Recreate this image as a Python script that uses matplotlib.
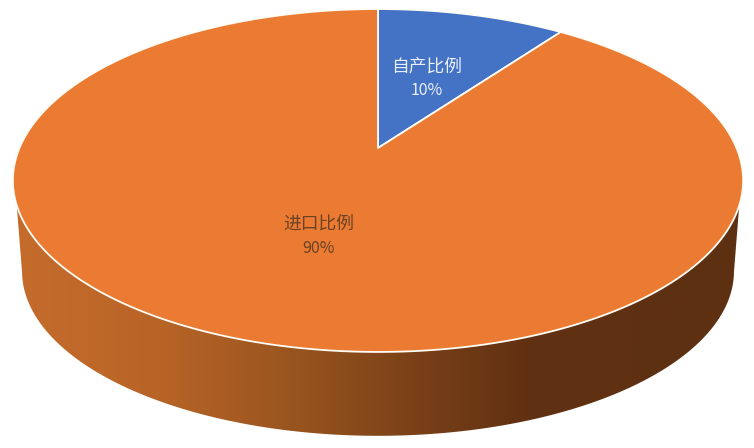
import numpy as np
import matplotlib
matplotlib.use("Agg")
import matplotlib.pyplot as plt
from matplotlib.patches import Polygon
from matplotlib.colors import LinearSegmentedColormap

plt.rcParams['font.family'] = ['Noto Sans CJK SC', 'DejaVu Sans']

categories = ['自产比例', '进口比例']
values = [10, 90]
slice_colors = ['#4472C4', '#EB7B32']
label_colors = ['#EAF0FA', '#6B4224']
label_radius = [0.49, 0.505]
label_shift = [-1.0, 2.0]

# Perspective view of the pie disc, in pixels of the 754x448 image
CX = 378.0
TOP = dict(apex=148.0, sy=165.3, k=0.1895, r=358.5)
BOTTOM = dict(apex=240.0, sy=158.7, k=0.1895, r=349.5)


def project(theta_deg, rho=1.0, view=TOP):
    t = np.radians(theta_deg)
    d = 1 + view['k'] * rho * np.cos(t)
    x = CX + view['r'] * rho * np.sin(t) / d
    y = view['apex'] - view['sy'] * rho * np.cos(t) / d
    return np.column_stack([np.atleast_1d(x), np.atleast_1d(y)])


fig = plt.figure(figsize=(7.54, 4.48), dpi=100, facecolor='white')
ax = fig.add_axes([0, 0, 1, 1])
ax.set_xlim(0, 754)
ax.set_ylim(448, 0)
ax.axis('off')

# Side wall with its left-to-right shading
circle = np.linspace(0, 360, 1441)
top_edge = project(circle)
low_edge = project(circle, view=BOTTOM)
top_front = top_edge[top_edge[:, 1] >= 205]
low_front = low_edge[low_edge[:, 1] >= 272]
top_front = top_front[np.argsort(top_front[:, 0])]
low_front = low_front[np.argsort(low_front[:, 0])]
wall = Polygon(np.vstack([top_front, low_front[::-1]]), closed=True,
               facecolor='none', edgecolor='none')
ax.add_patch(wall)
shade = LinearSegmentedColormap.from_list('wall', [
    (0.00, '#C56C2C'), (0.20, '#B86427'), (0.38, '#99551F'),
    (0.55, '#7A4118'), (0.70, '#613112'), (1.00, '#5D3012')])
img = ax.imshow(np.linspace(0, 1, 512)[None, :], cmap=shade, aspect='auto',
                extent=(13, 743, 448, 0), zorder=1)
img.set_clip_path(wall)
ax.set_xlim(0, 754)
ax.set_ylim(448, 0)

# Top face
shares = np.array(values, dtype=float) / sum(values)
ends = np.cumsum(shares) * 360
starts = ends - shares * 360
for i, cat in enumerate(categories):
    arc = project(np.linspace(starts[i], ends[i], 721))
    apex = project(0.0, rho=0.0)
    ax.add_patch(Polygon(np.vstack([apex, arc]), closed=True,
                         facecolor=slice_colors[i], edgecolor='#FFFDF5',
                         linewidth=1.3, joinstyle='round', zorder=2))

# Labels
for i, cat in enumerate(categories):
    mid = (starts[i] + ends[i]) / 2
    px, py = project(mid, rho=label_radius[i])[0]
    px += label_shift[i]
    ax.text(px, py - 11, cat, color=label_colors[i], fontsize=12.8,
            ha='center', va='center', zorder=3)
    ax.text(px, py + 13, f'{shares[i] * 100:.0f}%', color=label_colors[i],
            fontsize=11.5, ha='center', va='center', zorder=3)

fig.savefig('out.png', dpi=100, facecolor='white')
